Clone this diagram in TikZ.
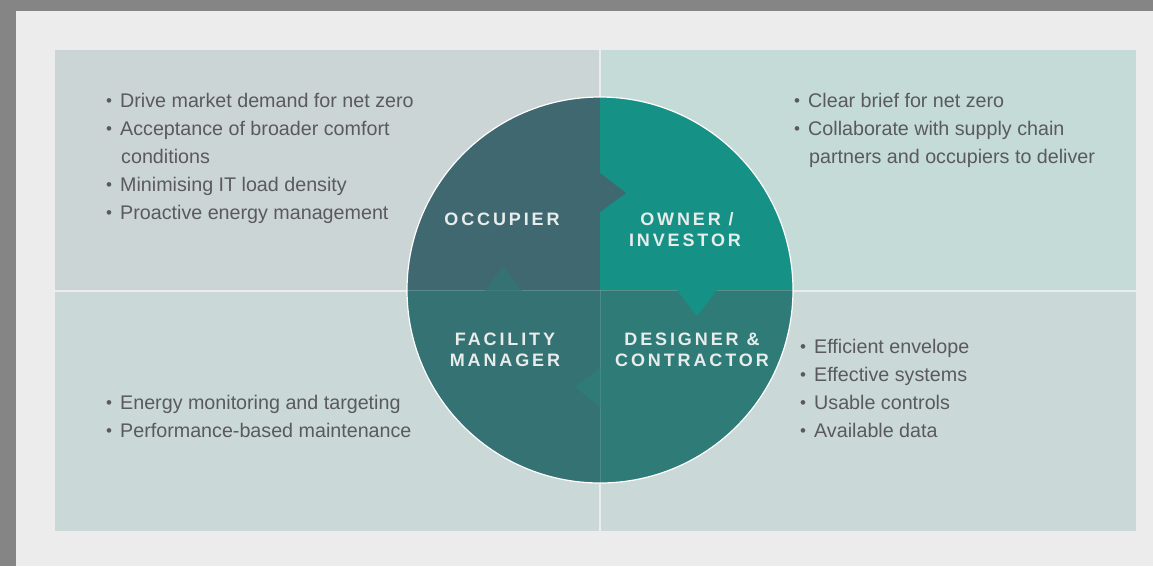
\documentclass[tikz,border=0pt]{standalone}
\usepackage{fontspec}
\setmainfont{Liberation Sans}
\definecolor{frame}{HTML}{858585}
\definecolor{pagebg}{HTML}{ECECEC}
\definecolor{paneTL}{HTML}{CCD5D6}
\definecolor{paneTR}{HTML}{C5DBD8}
\definecolor{paneB}{HTML}{CAD8D7}
\definecolor{occ}{HTML}{3F6870}
\definecolor{own}{HTML}{169186}
\definecolor{fac}{HTML}{357273}
\definecolor{des}{HTML}{2F7B77}
\definecolor{bodytxt}{HTML}{5A5A5A}
\definecolor{labtxt}{HTML}{E8ECEB}
\tikzset{
  itemtext/.style={anchor=base west, inner sep=0pt, text=bodytxt, font=\fontsize{19.7}{28}\selectfont},
  bulletmark/.style={anchor=base, inner sep=0pt, text=bodytxt, font=\fontsize{17}{17}\selectfont},
  roletext/.style={anchor=base, inner sep=0pt, text=labtxt, font=\fontsize{18}{21}\selectfont\bfseries\addfontfeature{LetterSpace=16}},
}
\newcommand{\bmark}{\raisebox{1pt}{•}}
\begin{document}
\begin{tikzpicture}[x=1pt,y=-1pt]
\useasboundingbox (0,0) rectangle (1153,566);
% frame and page
\fill[frame] (0,0) rectangle (1153,566);
\fill[pagebg] (16,11) rectangle (1153,566);
% panels
\fill[paneTL] (55,50) rectangle (599,290);
\fill[paneTR] (601,50) rectangle (1136,290);
\fill[paneB] (55,292) rectangle (599,531);
\fill[paneB] (601,292) rectangle (1136,531);
% circle quadrants
\begin{scope}
  \clip (600,290) circle[radius=193pt];
  \fill[occ] (400,90) rectangle (600,290);
  \fill[own] (600,90) rectangle (800,290);
  \fill[fac] (400,290) rectangle (600,490);
  \fill[des] (600,290) rectangle (800,490);
  \draw[white, opacity=0.18, line width=1.2pt] (400,290.5) -- (800,290.5);
  \draw[white, opacity=0.12, line width=1pt] (600,290) -- (600,490);
\end{scope}
% arrow notches
\fill[occ] (600,173) -- (626,193) -- (600,212) -- cycle;
\fill[own] (677,290) -- (697,316) -- (717,290) -- cycle;
\fill[des] (600,368) -- (575,387) -- (600,407) -- cycle;
\fill[fac] (485,290.5) -- (503,266) -- (522,290.5) -- cycle;
\draw[white, line width=1.2pt] (600,290) circle[radius=193pt];
% role labels
\node[roletext] (occ1) at (502,225) {OCCUPIER};
\node[roletext] (own1) at (687,225) {OWNER /};
\node[roletext] (own2) at (685,246) {INVESTOR};
\node[roletext] (fac1) at (505,345) {FACILITY};
\node[roletext] (fac2) at (505,366) {MANAGER};
\node[roletext] (des1) at (692,345) {DESIGNER \&};
\node[roletext] (des2) at (692,366) {CONTRACTOR};
% top-left list
\node[bulletmark] (tlb1) at (109,107) {\bmark};
\node[itemtext] (tlt1) at (120,107) {Drive market demand for net zero};
\node[bulletmark] (tlb2) at (109,135) {\bmark};
\node[itemtext] (tlt2) at (120,135) {Acceptance of broader comfort};
\node[itemtext] (tlt3) at (121,163) {conditions};
\node[bulletmark] (tlb4) at (109,191) {\bmark};
\node[itemtext] (tlt4) at (120,191) {Minimising IT load density};
\node[bulletmark] (tlb5) at (109,219) {\bmark};
\node[itemtext] (tlt5) at (120,219) {Proactive energy management};
% top-right list
\node[bulletmark] (trb1) at (797,107) {\bmark};
\node[itemtext] (trt1) at (808,107) {Clear brief for net zero};
\node[bulletmark] (trb2) at (797,135) {\bmark};
\node[itemtext] (trt2) at (808,135) {Collaborate with supply chain};
\node[itemtext] (trt3) at (809,163) {partners and occupiers to deliver};
% bottom-left list
\node[bulletmark] (blb1) at (109,409) {\bmark};
\node[itemtext] (blt1) at (120,409) {Energy monitoring and targeting};
\node[bulletmark] (blb2) at (109,437) {\bmark};
\node[itemtext] (blt2) at (120,437) {Performance-based maintenance};
% bottom-right list
\node[bulletmark] (brb1) at (803,353) {\bmark};
\node[itemtext] (brt1) at (814,353) {Efficient envelope};
\node[bulletmark] (brb2) at (803,381) {\bmark};
\node[itemtext] (brt2) at (814,381) {Effective systems};
\node[bulletmark] (brb3) at (803,409) {\bmark};
\node[itemtext] (brt3) at (814,409) {Usable controls};
\node[bulletmark] (brb4) at (803,437) {\bmark};
\node[itemtext] (brt4) at (814,437) {Available data};
\end{tikzpicture}
\end{document}
